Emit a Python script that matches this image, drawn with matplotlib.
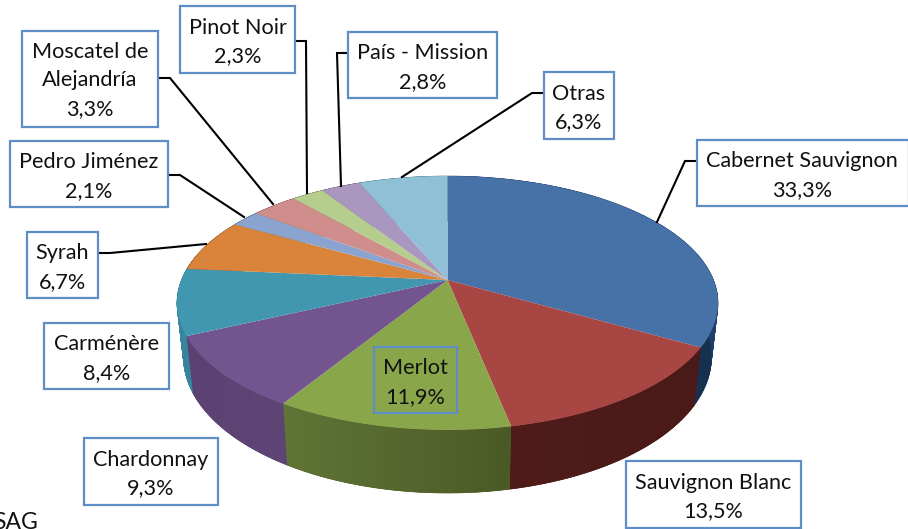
import numpy as np
import matplotlib
matplotlib.use("Agg")
import matplotlib.pyplot as plt
from matplotlib.collections import PolyCollection
from matplotlib.colors import to_rgb
from matplotlib.patches import Polygon

plt.rcParams['font.family'] = ['Lato', 'DejaVu Sans']

# ---- data ----
varieties = ["Cabernet Sauvignon", "Sauvignon Blanc", "Merlot", "Chardonnay", "Carménère",
             "Syrah", "Pedro Jiménez", "Moscatel de\nAlejandría", "Pinot Noir", "País - Mission", "Otras"]
shares = [33.3, 13.5, 11.9, 9.3, 8.4, 6.7, 2.1, 3.3, 2.3, 2.8, 6.3]
share_labels = ["33,3%", "13,5%", "11,9%", "9,3%", "8,4%", "6,7%", "2,1%", "3,3%", "2,3%", "2,8%", "6,3%"]

# ---- styles ----
top_colors = ["#4672A8", "#A84644", "#8AA64A", "#72558F", "#4297B0", "#D9833B",
              "#8BA4CF", "#CF8D8B", "#B5CD8D", "#A997BF", "#8FC0D6"]
side_colors = [("#1F3F6B", "#16304F"), ("#4A1A18", "#4F1C1A"), ("#4A5A26", "#617536"),
               ("#5E4575", "#5C4272"), ("#37859E", "#37859E"), ("#8A5020", "#8A5020"),
               ("#5A6E90", "#5A6E90"), ("#8A5A58", "#8A5A58"), ("#78885A", "#78885A"),
               ("#706080", "#706080"), ("#5A8090", "#5A8090")]

# box: left, top, right, bottom  (pixels of the 908x529 canvas)
boxes = [(697, 140, 909, 206), (626, 461, 801, 528), (374, 347, 457, 413), (84, 438, 218, 505),
         (44, 323, 169, 389), (27, 232, 98, 298), (10, 141, 168, 207), (22, 31, 158, 127),
         (180, 6, 295, 73), (348, 32, 497, 98), (544, 72, 614, 139)]
leaders = [[(697, 161), (685, 161), (657, 222)], None, None, None, None,
           [(98, 253), (110, 253), (206, 244)],
           [(168, 175), (180, 175), (244, 217)],
           [(158, 78), (170, 78), (273, 204)],
           [(295, 41), (306, 41), (307, 193)],
           [(348, 53), (337, 53), (341, 186)],
           [(544, 93), (532, 93), (402, 177)]]

# perspective of the pie
CX, K = 447.5, -0.181
TOP = dict(a=266.0, b=122.8, c=280.0)
BOT = dict(a=259.6, b=71.4, c=332.4)


def project(theta, p):
    u, v = np.sin(theta), -np.cos(theta)
    w = 1 + K * v
    if p is TOP:
        return CX + p['a'] * u / w, p['c'] + p['b'] * v / w
    return CX + p['a'] * u / w, (p['b'] * v + p['c']) / w


fig = plt.figure(figsize=(9.08, 5.29), dpi=100)
ax = fig.add_axes([0, 0, 1, 1])
ax.axis('off')

edges = np.concatenate([[0], np.cumsum(shares)]) / np.sum(shares) * 2 * np.pi

for i in range(len(shares)):
    th = np.linspace(edges[i], edges[i + 1], 150)
    x0, y0 = project(th, TOP)
    x1, y1 = project(th, BOT)
    c0, c1 = np.array(to_rgb(side_colors[i][0])), np.array(to_rgb(side_colors[i][1]))
    # ruled strips fill the wall up to the silhouette between the two rims
    quads = [[(x0[j], y0[j]), (x0[j + 1], y0[j + 1]), (x1[j + 1], y1[j + 1]), (x1[j], y1[j])]
             for j in range(len(th) - 1)]
    ax.add_collection(PolyCollection(quads, facecolors=[c0], edgecolors=[c0], linewidths=0.4, zorder=0.9))
    # a horizontal colour ramp gives the wall its smooth shading
    xs, ys = np.r_[x0, x1[::-1]], np.r_[y0, y1[::-1]]
    ramp = np.linspace(0, 1, 128)[None, :, None]
    left_to_right = x0[-1] > x0[0]
    a, b = (c0, c1) if left_to_right else (c1, c0)
    img = a[None, None, :] + (b - a)[None, None, :] * ramp
    im = ax.imshow(img, extent=(xs.min(), xs.max(), ys.max(), ys.min()),
                   aspect='auto', interpolation='bilinear', zorder=1)
    clip = Polygon(np.c_[xs, ys], closed=True, transform=ax.transData, facecolor='none', edgecolor='none')
    ax.add_patch(clip)
    im.set_clip_path(clip)

# top face
for i in range(len(shares)):
    th = np.linspace(edges[i], edges[i + 1], 120)
    x, y = project(th, TOP)
    ax.fill(np.r_[CX, x], np.r_[TOP['c'], y], facecolor=top_colors[i], edgecolor='none', zorder=2)

# leaders and labels
for i, name in enumerate(varieties):
    if leaders[i] is not None:
        xs, ys = zip(*leaders[i])
        ax.plot(xs, ys, color='black', lw=1.5, zorder=3, solid_joinstyle='miter')
    l, t, r, b = boxes[i]
    filled = name != "Merlot"
    ax.fill([l, r, r, l], [t, t, b, b], facecolor='white' if filled else 'none',
            edgecolor='#5F8DC8', lw=1.6, zorder=4)
    three = "\n" in name
    ax.text((l + min(r, 907)) / 2, (t + b) / 2 + (1.5 if three else 2.5), name + "\n" + share_labels[i],
            ha='center', va='center', ma='center', fontsize=15.6, linespacing=1.53,
            color='#111111', zorder=5)

ax.text(38, 529, "SAG", ha='right', va='baseline', fontsize=16.5, color='#111111', clip_on=False)

ax.set_xlim(0, 908)
ax.set_ylim(529, 0)
ax.set_aspect('auto')

fig.savefig("out.png", dpi=100, facecolor='white')
